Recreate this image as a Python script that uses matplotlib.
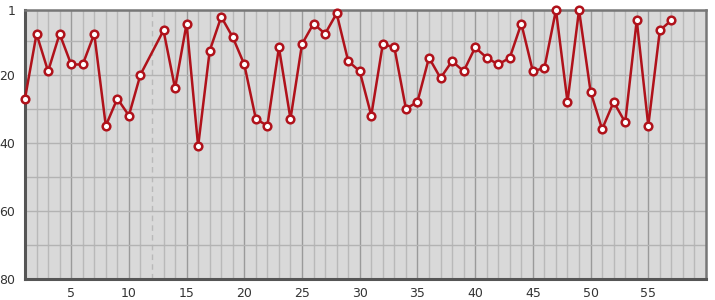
import matplotlib
matplotlib.use("Agg")
import matplotlib.pyplot as plt
from matplotlib.ticker import FixedLocator

x_vals = [1, 2, 3, 4, 5, 6, 7, 8, 9, 10, 11, 13, 14, 15, 16, 17, 18, 19, 20,
          21, 22, 23, 24, 25, 26, 27, 28, 29, 30, 31, 32, 33, 34, 35, 36, 37,
          38, 39, 40, 41, 42, 43, 44, 45, 46, 47, 48, 49, 50, 51, 52, 53, 54,
          55, 56, 57]
rank_vals = [27, 8, 19, 8, 17, 17, 8, 35, 27, 32, 20, 7, 24, 5, 41, 13, 3, 9, 17,
             33, 35, 12, 33, 11, 5, 8, 2, 16, 19, 32, 11, 12, 30, 28, 15, 21,
             16, 19, 12, 15, 17, 15, 5, 19, 18, 1, 28, 1, 25, 36, 28, 34, 4,
             35, 7, 4]
x_tick_labels = [5, 10, 15, 20, 25, 30, 35, 40, 45, 50, 55]
y_tick_labels = [1, 20, 40, 60, 80]
marked_x = 12

fig = plt.figure(figsize=(7.15, 3.0), dpi=100)
ax = fig.add_axes([25/715, 21/300, 681/715, 269/300])
ax.set_facecolor("#d9d9d9")

ax.set_xlim(1, 60)
ax.set_ylim(80, 1)

ax.xaxis.set_major_locator(FixedLocator(x_tick_labels))
minor_x = [i for i in range(2, 60) if i % 5 != 0 and i != marked_x]
ax.xaxis.set_minor_locator(FixedLocator(minor_x))
ax.yaxis.set_major_locator(FixedLocator(y_tick_labels))
ax.yaxis.set_minor_locator(FixedLocator([10, 30, 50, 70]))

ax.grid(True, axis="x", which="major", color="#9a9a9a", linewidth=1.0, zorder=0)
ax.grid(True, axis="x", which="minor", color="#b9b9b9", linewidth=1.0, zorder=0)
ax.grid(True, axis="y", which="both", color="#b3b3b3", linewidth=1.0, zorder=0)
ax.axvline(marked_x, color="#b9b9b9", linewidth=1.0, linestyle=(0, (4, 3)), zorder=0)
ax.set_axisbelow(True)

ax.tick_params(axis="both", which="both", length=0, labelsize=9, colors="#333333")
ax.tick_params(axis="x", pad=6)
ax.tick_params(axis="y", pad=7)
for lab in ax.get_xticklabels() + ax.get_yticklabels():
    lab.set_family("DejaVu Sans")

for side in ["left", "bottom"]:
    ax.spines[side].set_color("#555555")
    ax.spines[side].set_linewidth(2.2)
for side in ["top", "right"]:
    ax.spines[side].set_color("#777777")
    ax.spines[side].set_linewidth(1.8)

ax.plot(x_vals, rank_vals, color="#b0121b", linewidth=1.8, marker="o",
        markersize=5.5, markerfacecolor="white", markeredgecolor="#b0121b",
        markeredgewidth=1.8, zorder=5, clip_on=False)

fig.savefig("out.png", dpi=100)
